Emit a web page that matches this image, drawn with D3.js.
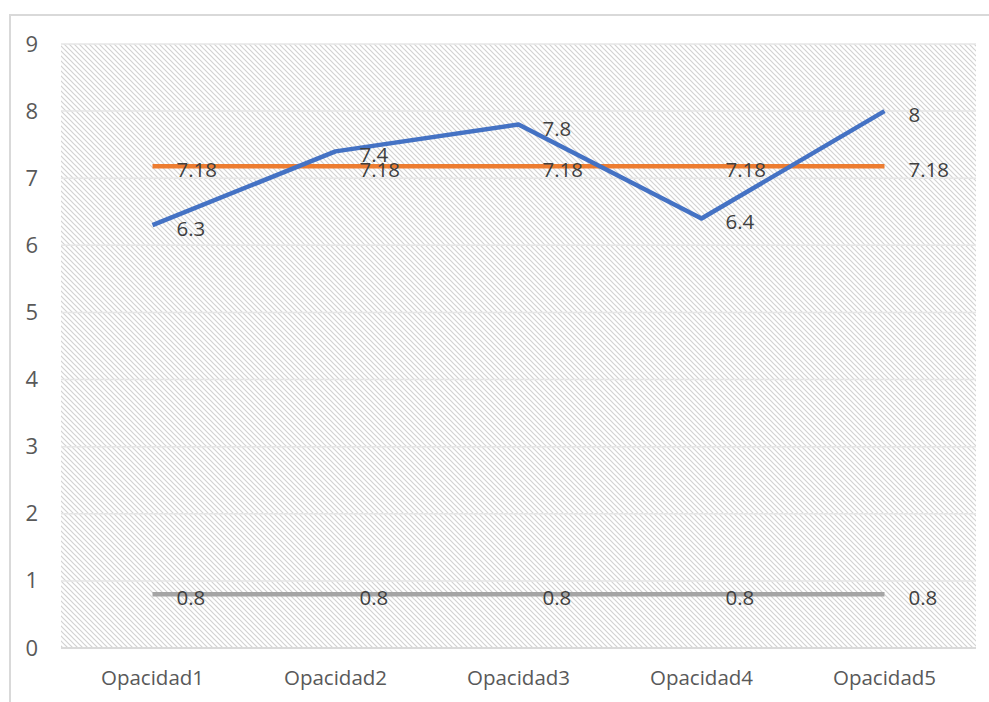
<!DOCTYPE html>
<html>
<head>
<meta charset="utf-8">
<script src="https://cdn.jsdelivr.net/npm/d3@7"></script>
<style>
  html, body { margin: 0; padding: 0; background: #fff; }
  svg { display: block; font-family: "Open Sans", "Noto Sans", sans-serif; }
</style>
</head>
<body>
<div id="chart"></div>
<script>
const categories = ["Opacidad1", "Opacidad2", "Opacidad3", "Opacidad4", "Opacidad5"];
const serieA = [6.3, 7.4, 7.8, 6.4, 8];
const serieB = [7.18, 7.18, 7.18, 7.18, 7.18];
const serieC = [0.8, 0.8, 0.8, 0.8, 0.8];
const yTicks = [0, 1, 2, 3, 4, 5, 6, 7, 8, 9];

const width = 989, height = 702;
const margin = {left: 61, right: 13, top: 44, bottom: 54};

const svg = d3.select("#chart").append("svg")
    .attr("width", width).attr("height", height);

// chart frame
svg.append("path")
    .attr("d", `M10,${height} L10,15 L${width},15`)
    .attr("fill", "none")
    .attr("stroke", "#d9d9d9")
    .attr("stroke-width", 2);

const defs = svg.append("defs");
const pat = defs.append("pattern")
    .attr("id", "hatch")
    .attr("patternUnits", "userSpaceOnUse")
    .attr("width", 5).attr("height", 5);
pat.append("path")
    .attr("d", "M-1,-1 L6,6 M-1,4 L1,6 M4,-1 L6,1")
    .attr("stroke", "#d2d2d2")
    .attr("stroke-width", 1.2);

const x = d3.scaleBand()
    .domain(categories)
    .range([margin.left, width - margin.right]);
const y = d3.scaleLinear()
    .domain([0, 9])
    .range([height - margin.bottom, margin.top]);

svg.append("rect")
    .attr("x", margin.left).attr("y", margin.top)
    .attr("width", x.range()[1] - margin.left)
    .attr("height", y(0) - margin.top)
    .attr("fill", "url(#hatch)");

// gridlines
svg.append("g")
    .selectAll("line").data(yTicks).enter().append("line")
    .attr("x1", margin.left).attr("x2", x.range()[1])
    .attr("y1", d => y(d)).attr("y2", d => y(d))
    .attr("stroke", d => d === 0 ? "#d9d9d9" : "#e6e6e6")
    .attr("stroke-width", d => d === 0 ? 2 : 1.5);

// y axis labels
const yAxis = svg.append("g")
    .attr("transform", `translate(${margin.left},0)`)
    .call(d3.axisLeft(y).tickValues(yTicks).tickSize(0).tickPadding(23));
yAxis.select(".domain").remove();
yAxis.selectAll("text")
    .attr("fill", "#595959")
    .style("font-size", "22px")
    .style("font-family", "'Open Sans', 'Noto Sans', sans-serif");

// x axis labels
const xAxis = svg.append("g")
    .attr("transform", `translate(0,${y(0)})`)
    .call(d3.axisBottom(x).tickSize(0).tickPadding(22));
xAxis.select(".domain").remove();
xAxis.selectAll("text")
    .attr("fill", "#595959")
    .style("font-size", "20.5px")
    .style("font-family", "'Open Sans', 'Noto Sans', sans-serif");

const cx = d => x(d) + x.bandwidth() / 2;
const series = [
    {values: serieC, color: "#a5a5a5"},
    {values: serieB, color: "#ed7d31"},
    {values: serieA, color: "#4472c4"}
];

const line = d3.line()
    .x((d, i) => cx(categories[i]))
    .y(d => y(d));

series.forEach(s => {
    svg.append("path")
        .datum(s.values)
        .attr("d", line)
        .attr("fill", "none")
        .attr("stroke", s.color)
        .attr("stroke-width", 4.5)
        .attr("stroke-linejoin", "round");
});

// data labels
const labelOrder = [serieA, serieB, serieC];
labelOrder.forEach(vals => {
    svg.append("g").selectAll("text").data(vals).enter().append("text")
        .attr("x", (d, i) => cx(categories[i]) + 24)
        .attr("y", d => y(d) + 3)
        .attr("dominant-baseline", "central")
        .attr("fill", "#404040")
        .style("font-size", "20.5px")
        .text(d => d);
});
</script>
</body>
</html>
